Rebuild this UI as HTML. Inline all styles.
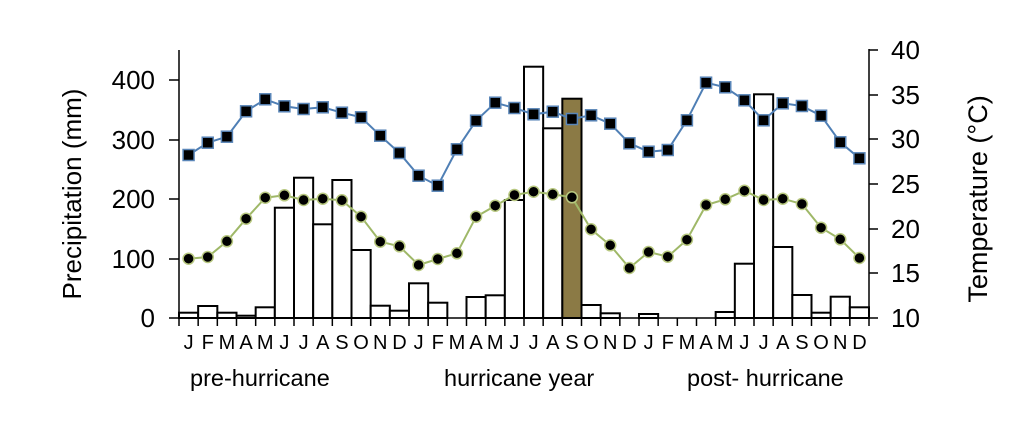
<!DOCTYPE html>
<html><head><meta charset="utf-8"><style>
body{margin:0;background:#fff;}
svg text{font-family:"Liberation Sans",Arial,sans-serif;fill:#000;}
</style></head><body>
<svg width="1036" height="416" viewBox="0 0 1036 416" xmlns="http://www.w3.org/2000/svg">
<g id="bars" stroke="#000" stroke-width="2" fill="#fff"></g>
<g stroke="#000" stroke-width="1.5" fill="none">
<line x1="179" y1="50" x2="179" y2="319"/>
<line x1="869" y1="49" x2="869" y2="319"/>
<line x1="179" y1="318" x2="869" y2="318"/>
<line x1="169" y1="80" x2="179" y2="80"/><line x1="169" y1="140" x2="179" y2="140"/><line x1="169" y1="199" x2="179" y2="199"/><line x1="169" y1="259" x2="179" y2="259"/><line x1="169" y1="318" x2="179" y2="318"/>
<line x1="869" y1="50" x2="878" y2="50"/><line x1="869" y1="95" x2="878" y2="95"/><line x1="869" y1="139" x2="878" y2="139"/><line x1="869" y1="184" x2="878" y2="184"/><line x1="869" y1="229" x2="878" y2="229"/><line x1="869" y1="273" x2="878" y2="273"/><line x1="869" y1="318" x2="878" y2="318"/>
</g>
<g id="ticks" stroke="#000" stroke-width="1.5"></g>
<g id="lines"></g>
<g font-size="26" text-anchor="end">
<text x="155" y="89">400</text><text x="155" y="149">300</text><text x="155" y="208">200</text><text x="155" y="268">100</text><text x="155" y="327">0</text>
</g>
<g font-size="26" text-anchor="start">
<text x="891" y="59">40</text><text x="891" y="104">35</text><text x="891" y="148">30</text><text x="891" y="193">25</text><text x="891" y="238">20</text><text x="891" y="282">15</text><text x="891" y="327">10</text>
</g>
<text font-size="26" text-anchor="middle" transform="translate(81,194) rotate(-90)">Precipitation (mm)</text>
<text font-size="27" text-anchor="middle" transform="translate(987,199) rotate(-90)">Temperature (°C)</text>
<g id="months" font-size="20" text-anchor="middle"></g>
<g font-size="23.5">
<text x="190" y="386">pre-hurricane</text>
<text x="444" y="386">hurricane year</text>
<text x="687" y="386">post- hurricane</text>
</g>
</svg>
<script>
var X0=179,W=690/36,B=318,ns="http://www.w3.org/2000/svg";
function el(p,t,a){var e=document.createElementNS(ns,t);for(var k in a)e.setAttribute(k,a[k]);document.getElementById(p).appendChild(e);return e;}
var bt=[312.7,306,312.7,315.7,307.3,207.7,177.7,224.3,180,250,305.7,310.7,283.3,302.7,null,297,295.3,200,66.7,128.3,98.7,305,313.3,null,314,null,null,null,312,263.7,94.3,247,295,312.7,296.7,307.3];
bt.forEach(function(t,i){if(t===null)return;var a={x:X0+i*W,y:t,width:W,height:B-t};if(i==20)a.fill="#8b7a45";el("bars","rect",a);});
for(var i=0;i<=36;i++)el("ticks","line",{x1:X0+i*W,y1:318,x2:X0+i*W,y2:326});
var m="JFMAMJJASOND";
for(var i=0;i<36;i++){var t=el("months","text",{x:X0+(i+.5)*W,y:349});t.textContent=m[i%12];}
var bl=[155,142.7,136.7,111.3,99.3,106.3,109,107.3,112.7,117.3,135.7,153,175.7,185.7,149.3,120.7,102.7,108,114.3,111.7,119,115.3,123.7,143.3,151.7,150,120.3,82.7,87.3,100.3,120.3,103.3,106,115.7,142.3,158.3];
var gr=[258.7,257,241.3,218.7,197.7,195.3,200,198.7,200.3,216.7,241.7,246.3,265,259,253.3,216.7,205.7,195,191.7,194.3,197.3,229.3,245.3,268,252,256.7,239.7,205,199.3,190.7,200,198.7,204,227.7,239.3,258];
function pts(a){return a.map(function(y,i){return (X0+(i+.5)*W).toFixed(1)+","+y}).join(" ");}
el("lines","polyline",{points:pts(bl),fill:"none",stroke:"#4f7fb5","stroke-width":2});
el("lines","polyline",{points:pts(gr),fill:"none",stroke:"#9fb868","stroke-width":2});
bl.forEach(function(y,i){el("lines","rect",{x:X0+(i+.5)*W-5.5,y:y-5.5,width:11,height:11,fill:"#000",stroke:"#5a86b8","stroke-width":1.5});});
gr.forEach(function(y,i){el("lines","circle",{cx:X0+(i+.5)*W,cy:y,r:5.5,fill:"#000",stroke:"#b8c880","stroke-width":1.5});});
</script>
</body></html>
